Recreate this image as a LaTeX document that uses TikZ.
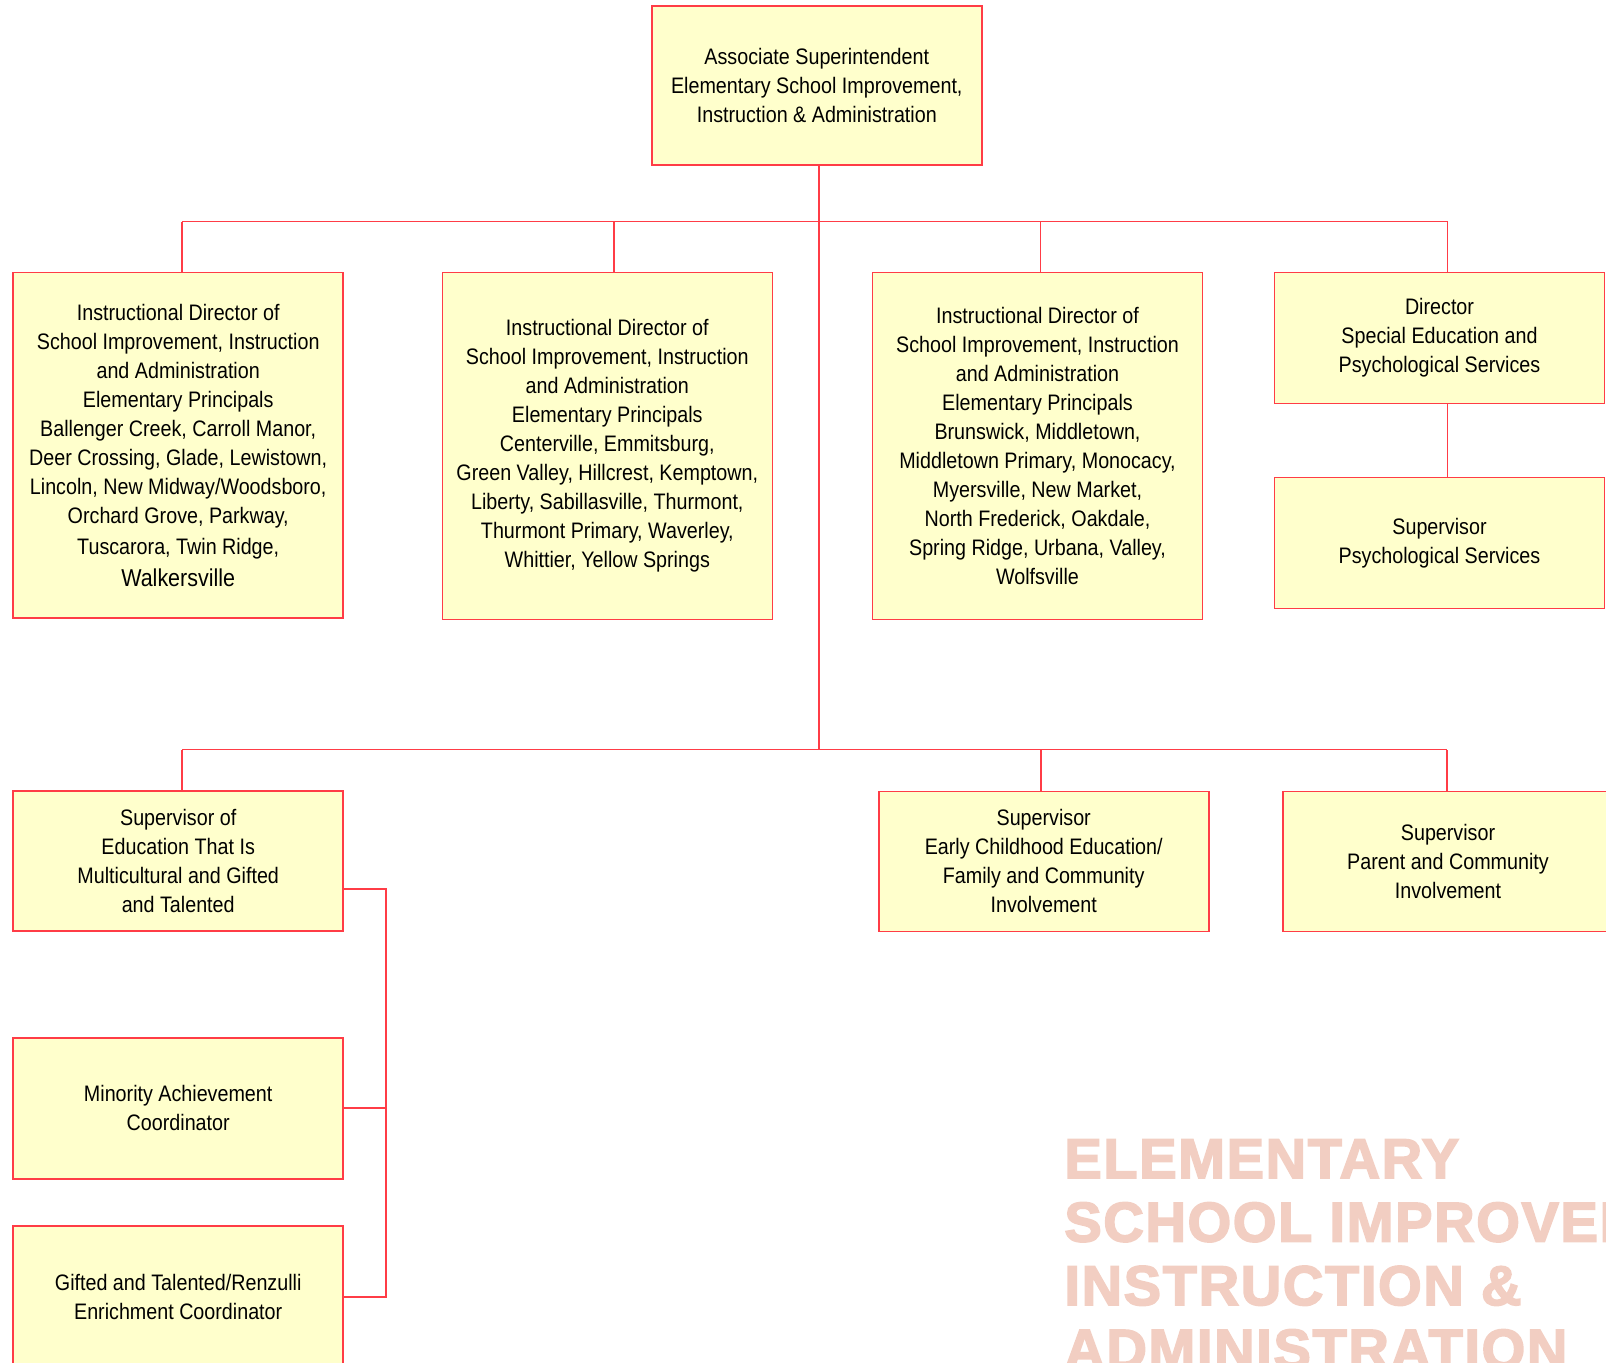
\documentclass[tikz,border=0pt]{standalone}
\usepackage{fontspec}
\setmainfont[FakeStretch=0.88]{Liberation Sans}
\newfontfamily\markfont[FakeBold=3,LetterSpace=3]{Liberation Sans}

\definecolor{boxfill}{RGB}{255,255,204}
\definecolor{linered}{RGB}{255,60,70}
\definecolor{markpink}{RGB}{242,206,194}

\tikzset{
  box/.style={draw=linered, fill=boxfill, line width=0.8pt, minimum width=165pt,
    inner sep=0pt, align=center, font=\fontsize{11.2}{14.5}\selectfont},
  link/.style={draw=linered, line width=0.8pt},
  watermark/.style={text=markpink, inner sep=0pt, font=\markfont\bfseries\fontsize{28}{31.75}\selectfont}
}

\begin{document}
\begin{tikzpicture}[x=0.5pt,y=-0.5pt]
  % Page size, everything outside is cut off
  \useasboundingbox (0,0) rectangle (1606,1362);
  \clip (0,0) rectangle (1606,1362);

  % Watermark title in the lower right corner
  \foreach \ln [count=\i from 0] in {ELEMENTARY,{SCHOOL IMPROVEMENT,},INSTRUCTION \&,ADMINISTRATION}
    \node[watermark, anchor=base west] (mark\i) at (1064,{1178+63.5*\i}) {\ln};

  % Head of the office
  \node[box, minimum height=79.5pt] (asi) at (816.8,85.5)
    {Associate Superintendent\\Elementary School Improvement,\\Instruction \& Administration};

  % First row: instructional directors and special education
  \node[box, minimum height=172.75pt] (id1) at (178.2,445.2)
    {Instructional Director of\\School Improvement, Instruction\\and Administration\\Elementary Principals\\
     Ballenger Creek, Carroll Manor,\\Deer Crossing, Glade, Lewistown,\\Lincoln, New Midway/Woodsboro,\\
     Orchard Grove, Parkway,\\[1.2pt]Tuscarora, Twin Ridge,\\[1.2pt]{\fontsize{12.2}{14}\selectfont Walkersville}};
  \node[box, minimum height=173.5pt] (id2) at (607.3,446)
    {Instructional Director of\\School Improvement, Instruction\\and Administration\\Elementary Principals\\
     Centerville, Emmitsburg,\\Green Valley, Hillcrest, Kemptown,\\Liberty, Sabillasville, Thurmont,\\
     Thurmont Primary, Waverley,\\Whittier, Yellow Springs};
  \node[box, minimum height=173.5pt] (id3) at (1037.5,446)
    {Instructional Director of\\School Improvement, Instruction\\and Administration\\Elementary Principals\\
     Brunswick, Middletown,\\Middletown Primary, Monocacy,\\Myersville, New Market,\\
     North Frederick, Oakdale,\\Spring Ridge, Urbana, Valley,\\Wolfsville};
  \node[box, minimum height=65.5pt] (dsp) at (1439.5,338)
    {Director\\Special Education and\\Psychological Services};
  \node[box, minimum height=65.5pt] (sps) at (1439.5,543)
    {Supervisor\\Psychological Services};

  % Second row: supervisors
  \node[box, minimum height=70pt] (sem) at (178.2,860.9)
    {Supervisor of\\Education That Is\\Multicultural and Gifted\\and Talented};
  \node[box, minimum height=70pt] (sec) at (1043.7,861.3)
    {Supervisor\\Early Childhood Education/\\Family and Community\\Involvement};
  \node[box, minimum height=70pt] (spc) at (1448,861.3)
    {Supervisor\\Parent and Community\\Involvement};

  % Coordinators under the multicultural supervisor
  \node[box, minimum height=70.5pt] (mac) at (178.2,1108.2)
    {Minority Achievement\\Coordinator};
  \node[box, minimum height=71pt] (gtr) at (178.2,1297)
    {Gifted and Talented/Renzulli\\Enrichment Coordinator};

  % Bus lines
  \coordinate (upbus) at (0,221.5);
  \coordinate (lowbus) at (0,749.5);
  \coordinate (trunk) at ([xshift=1pt]asi.south);
  \draw[link] (trunk) -- (trunk |- lowbus);

  % Taps to the first row
  \foreach \n/\dx in {id1/2pt,id2/3.2pt,id3/1.5pt,dsp/4pt} {
    \coordinate (\n-tap) at ([xshift=\dx]\n.north);
    \draw[link] (\n-tap) -- (\n-tap |- upbus);
  }
  \draw[link] (id1-tap |- upbus) -- (dsp-tap |- upbus);
  \draw[link] ([xshift=4pt]dsp.south) -- ([xshift=4pt]sps.north);

  % Taps to the second row
  \foreach \n/\dx in {sem/2pt,sec/-1.5pt,spc/-0.5pt} {
    \coordinate (\n-tap) at ([xshift=\dx]\n.north);
    \draw[link] (\n-tap) -- (\n-tap |- lowbus);
  }
  \draw[link] (sem-tap |- lowbus) -- (spc-tap |- lowbus);

  % Bracket on the right of the coordinators
  \coordinate (brk) at (386,0);
  \coordinate (sem-out) at ([yshift=-14pt]sem.east);
  \draw[link] (sem-out) -- (sem-out -| brk) -- (gtr.east -| brk) -- (gtr.east);
  \draw[link] (mac.east) -- (mac.east -| brk);

\end{tikzpicture}
\end{document}
